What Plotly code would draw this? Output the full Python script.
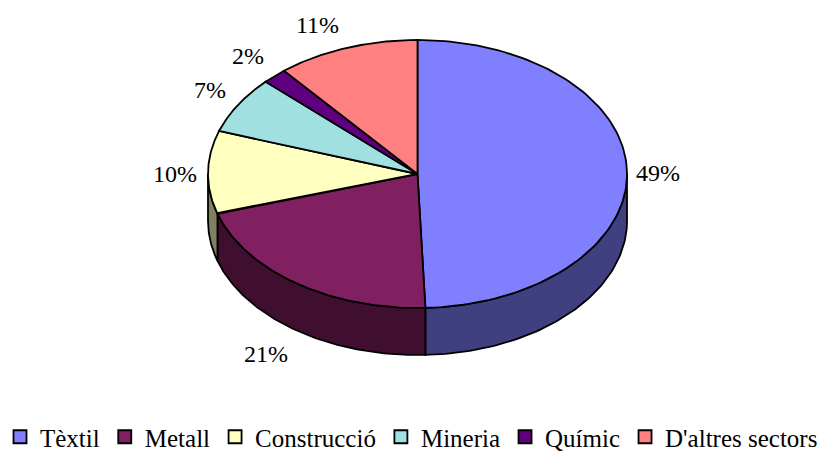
import numpy as np
import plotly.graph_objects as go

categories = ["Tèxtil", "Metall", "Construcció", "Mineria", "Químic", "D'altres sectors"]
values = [49.4, 20.8, 10.0, 6.9, 1.9, 11.0]
labels = ["49%", "21%", "10%", "7%", "2%", "11%"]
top_colors = ["#8080FF", "#802060", "#FFFFC0", "#A0E0E0", "#600080", "#FF8080"]
side_colors = ["#404080", "#400F30", "#808060", "#507070", "#300040", "#804040"]
label_shift = [(31, 2), (-31, 71), (-33, 2), (-28, -15), (-27, -20), (-29, -23)]

CX, CY, RX, RY, DEPTH = 417.5, 174, 209.5, 134, 47
FONT = "Liberation Serif, Times New Roman, serif"


def ellipse(theta_deg):
    t = np.radians(theta_deg)
    return CX + RX * np.sin(t), CY - RY * np.cos(t)


fig = go.Figure()
edges = np.concatenate([[0], np.cumsum(values)]) / np.sum(values) * 360

# Side wall: only the front half of the rim (90 to 270 degrees) is visible
for a, b, col in zip(edges[:-1], edges[1:], side_colors):
    lo, hi = max(a, 90), min(b, 270)
    if lo >= hi:
        continue
    x, y = ellipse(np.linspace(lo, hi, 80))
    fig.add_trace(go.Scatter(
        x=np.concatenate([x, x[::-1], x[:1]]),
        y=np.concatenate([y, y[::-1] + DEPTH, y[:1]]),
        mode="lines", fill="toself", fillcolor=col,
        line=dict(color="black", width=1.8),
        showlegend=False, hoverinfo="skip"))

# Top face
for a, b, col, name in zip(edges[:-1], edges[1:], top_colors, categories):
    x, y = ellipse(np.linspace(a, b, 120))
    fig.add_trace(go.Scatter(
        x=np.concatenate([[CX], x, [CX]]),
        y=np.concatenate([[CY], y, [CY]]),
        mode="lines", fill="toself", fillcolor=col,
        line=dict(color="black", width=1.8),
        name=name, showlegend=False))

# Legend entries
for name, col in zip(categories, top_colors):
    fig.add_trace(go.Scatter(
        x=[None], y=[None], mode="markers", name=name,
        marker=dict(symbol="square", size=13, color=col,
                    line=dict(color="black", width=1.8))))

# Percent labels
mids = (edges[:-1] + edges[1:]) / 2
for m, text, (dx, dy) in zip(mids, labels, label_shift):
    px, py = ellipse(m)
    fig.add_annotation(x=px, y=py, text=text, showarrow=False,
                       xshift=dx, yshift=-dy,
                       font=dict(family=FONT, size=24, color="black"))

fig.update_layout(
    width=822, height=452, margin=dict(l=0, r=0, t=0, b=0, autoexpand=False),
    paper_bgcolor="white", plot_bgcolor="white",
    xaxis=dict(range=[0, 822], visible=False, fixedrange=True),
    yaxis=dict(range=[452, 0], visible=False, fixedrange=True),
    legend=dict(orientation="h", x=0, xanchor="left", y=-0.0177, yanchor="bottom",
                font=dict(family=FONT, size=25, color="black"),
                itemwidth=30, bgcolor="rgba(0,0,0,0)", traceorder="normal",
                tracegroupgap=0),
)
fig.write_html("out.html", config={"displayModeBar": False},
               post_script="document.body.style.margin='0';")
